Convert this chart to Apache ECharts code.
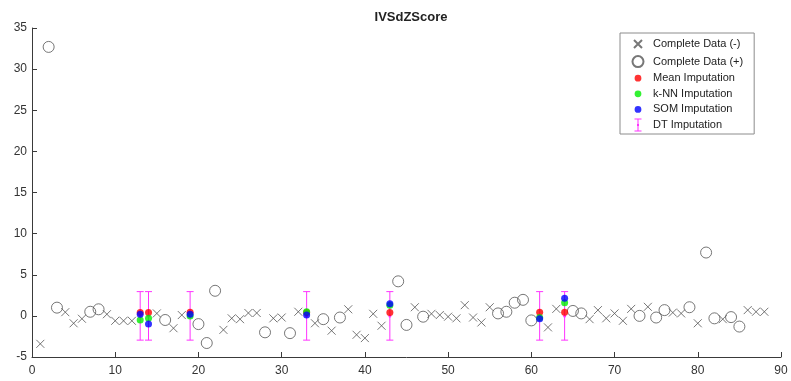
<!DOCTYPE html>
<html>
<head>
<meta charset="utf-8">
<script src="https://cdn.jsdelivr.net/npm/echarts@6/dist/echarts.min.js"></script>
<style>html,body{margin:0;padding:0;background:#fff}#c{width:791px;height:381px}</style>
</head>
<body>
<div id="c"></div>
<script>
// Complete Data (-) : sample index and value
const negIdx = [1,4,5,6,9,10,11,12,15,17,18,23,24,25,26,27,29,30,32,34,36,38,39,40,41,42,46,48,49,50,51,52,53,54,55,62,63,67,68,69,70,71,72,74,77,78,80,83,86,87,88];
const negVal = [-3.4,0.45,-0.9,-0.35,0.2,-0.6,-0.6,-0.6,0.3,-1.5,0.1,-1.7,-0.3,-0.4,0.35,0.35,-0.3,-0.2,0.5,-0.9,-1.8,0.8,-2.3,-2.7,0.25,-1.2,1.05,0.25,0.1,-0.1,-0.3,1.3,-0.2,-0.8,1.05,-1.4,0.85,-0.4,0.7,-0.3,0.3,-0.6,0.85,1.1,0.4,0.3,-0.9,-0.4,0.7,0.5,0.5];
// Complete Data (+)
const posIdx = [2,3,7,8,16,20,21,22,28,31,35,37,44,45,47,56,57,58,59,60,65,66,73,75,76,79,81,82,84,85];
const posVal = [32.7,1.0,0.5,0.8,-0.5,-1.0,-3.3,3.05,-2.0,-2.1,-0.4,-0.2,4.2,-1.1,-0.1,0.3,0.5,1.6,1.95,-0.55,0.6,0.3,0.0,-0.2,0.7,1.05,7.7,-0.3,-0.15,-1.3];
// Imputed samples
const impIdx  = [13,14,19,33,43,61,64];
const meanVal = [0.4,0.4,0.45,0.4,0.4,0.45,0.45];
const knnVal  = [-0.5,-0.3,0.0,0.5,1.3,-0.2,1.6];
const somVal  = [0.2,-1.0,0.2,0.1,1.46,-0.36,2.15];
const dtVal   = [0,0,0,0,0,0,0];
const dtErr   = [2.95,2.95,2.95,2.95,2.95,2.95,2.95];

const zip = (a,b) => a.map((v,i)=>[v,b[i]]);
const crossPath = 'path://M0,0L10,10M10,0L0,10';
const circPath = 'path://M0,0M20,20M10,0A10,10,0,1,1,9.99,0Z';
const box = 'M0,0M14,14';
const legCross = 'path://' + box + 'M3,3L11,11M11,3L3,11';
const legCircle = 'path://' + box + 'M7,1.5A5.5,5.5,0,1,1,6.99,1.5Z';
const legDot = 'path://' + box + 'M7,3.6A3.4,3.4,0,1,1,6.99,3.6Z';
const legDT = 'path://' + box + 'M3.5,0.5h7v1h-7z M6.5,0.5h1v13h-1z M3.5,12.5h7v1h-7z M6,6h2v2h-2z';
const font = 'Arial, "Liberation Sans", Helvetica, sans-serif';

const chart = echarts.init(document.getElementById('c'), null, {renderer:'canvas'});
const axisLine = {show:true,onZero:false,lineStyle:{color:'#3a3a3a',width:1}};
const axisTick = {show:true,inside:true,length:5,lineStyle:{color:'#3a3a3a'}};
chart.setOption({
  animation:false,
  backgroundColor:'#fff',
  title:{text:'IVSdZScore',left:406,textAlign:'center',top:6,textStyle:{fontSize:13,fontWeight:'bold',color:'#222',fontFamily:font}},
  grid:{left:32,right:10,top:28,bottom:24,containLabel:false},
  legend:{
    orient:'vertical',left:620,top:33,
    padding:[3,11,2,10],itemWidth:20,itemHeight:14,itemGap:1.6,
    borderColor:'#8c8c8c',borderWidth:1,backgroundColor:'#fff',
    textStyle:{fontSize:11,color:'#222',fontFamily:font},
    data:[
      {name:'Complete Data (-)',icon:legCross},
      {name:'Complete Data (+)',icon:legCircle},
      {name:'Mean Imputation',icon:legDot},
      {name:'k-NN Imputation',icon:legDot},
      {name:'SOM Imputation',icon:legDot},
      {name:'DT Imputation',icon:legDT}
    ]
  },
  xAxis:{type:'value',min:0,max:90,interval:10,axisLine:axisLine,axisTick:axisTick,splitLine:{show:false},
    axisLabel:{color:'#333',fontSize:12,fontFamily:font,margin:8}},
  yAxis:{type:'value',min:-5,max:35,interval:5,axisLine:axisLine,axisTick:axisTick,splitLine:{show:false},
    axisLabel:{color:'#333',fontSize:12,fontFamily:font,margin:5}},
  series:[
    {name:'Complete Data (-)',type:'scatter',symbol:crossPath,symbolSize:8,
     itemStyle:{color:'rgba(0,0,0,0)',borderColor:'#555',borderWidth:1},
     data:zip(negIdx,negVal),z:2},
    {name:'Complete Data (+)',type:'scatter',symbol:circPath,symbolSize:11,
     itemStyle:{color:'rgba(0,0,0,0)',borderColor:'#555',borderWidth:1},
     data:zip(posIdx,posVal),z:2},
    {name:'DT Imputation',type:'custom',z:3,
     itemStyle:{color:'#ff33ff'},
     data:impIdx.map((x,i)=>[x,dtVal[i],dtErr[i]]),
     renderItem:function(params,api){
       const x=api.value(0),y=api.value(1),e=api.value(2);
       const t=api.coord([x,y+e]),b=api.coord([x,y-e]),c=api.coord([x,y]);
       const hw=3.5, st={stroke:'#ff33ff',lineWidth:1};
       return {type:'group',children:[
         {type:'line',shape:{x1:t[0],y1:t[1],x2:b[0],y2:b[1]},style:st},
         {type:'line',shape:{x1:t[0]-hw,y1:t[1],x2:t[0]+hw,y2:t[1]},style:st},
         {type:'line',shape:{x1:b[0]-hw,y1:b[1],x2:b[0]+hw,y2:b[1]},style:st},
         {type:'circle',shape:{cx:c[0],cy:c[1],r:1.5},style:{fill:'#ff33ff'}}
       ]};
     }},
    {name:'Mean Imputation',type:'scatter',symbol:'circle',symbolSize:7,
     itemStyle:{color:'#ff0000'},data:zip(impIdx,meanVal),z:4},
    {name:'k-NN Imputation',type:'scatter',symbol:'circle',symbolSize:7,
     itemStyle:{color:'#00ee00'},data:zip(impIdx,knnVal),z:5},
    {name:'SOM Imputation',type:'scatter',symbol:'circle',symbolSize:7,
     itemStyle:{color:'#0000ff'},data:zip(impIdx,somVal),z:6}
  ]
});
</script>
</body>
</html>
